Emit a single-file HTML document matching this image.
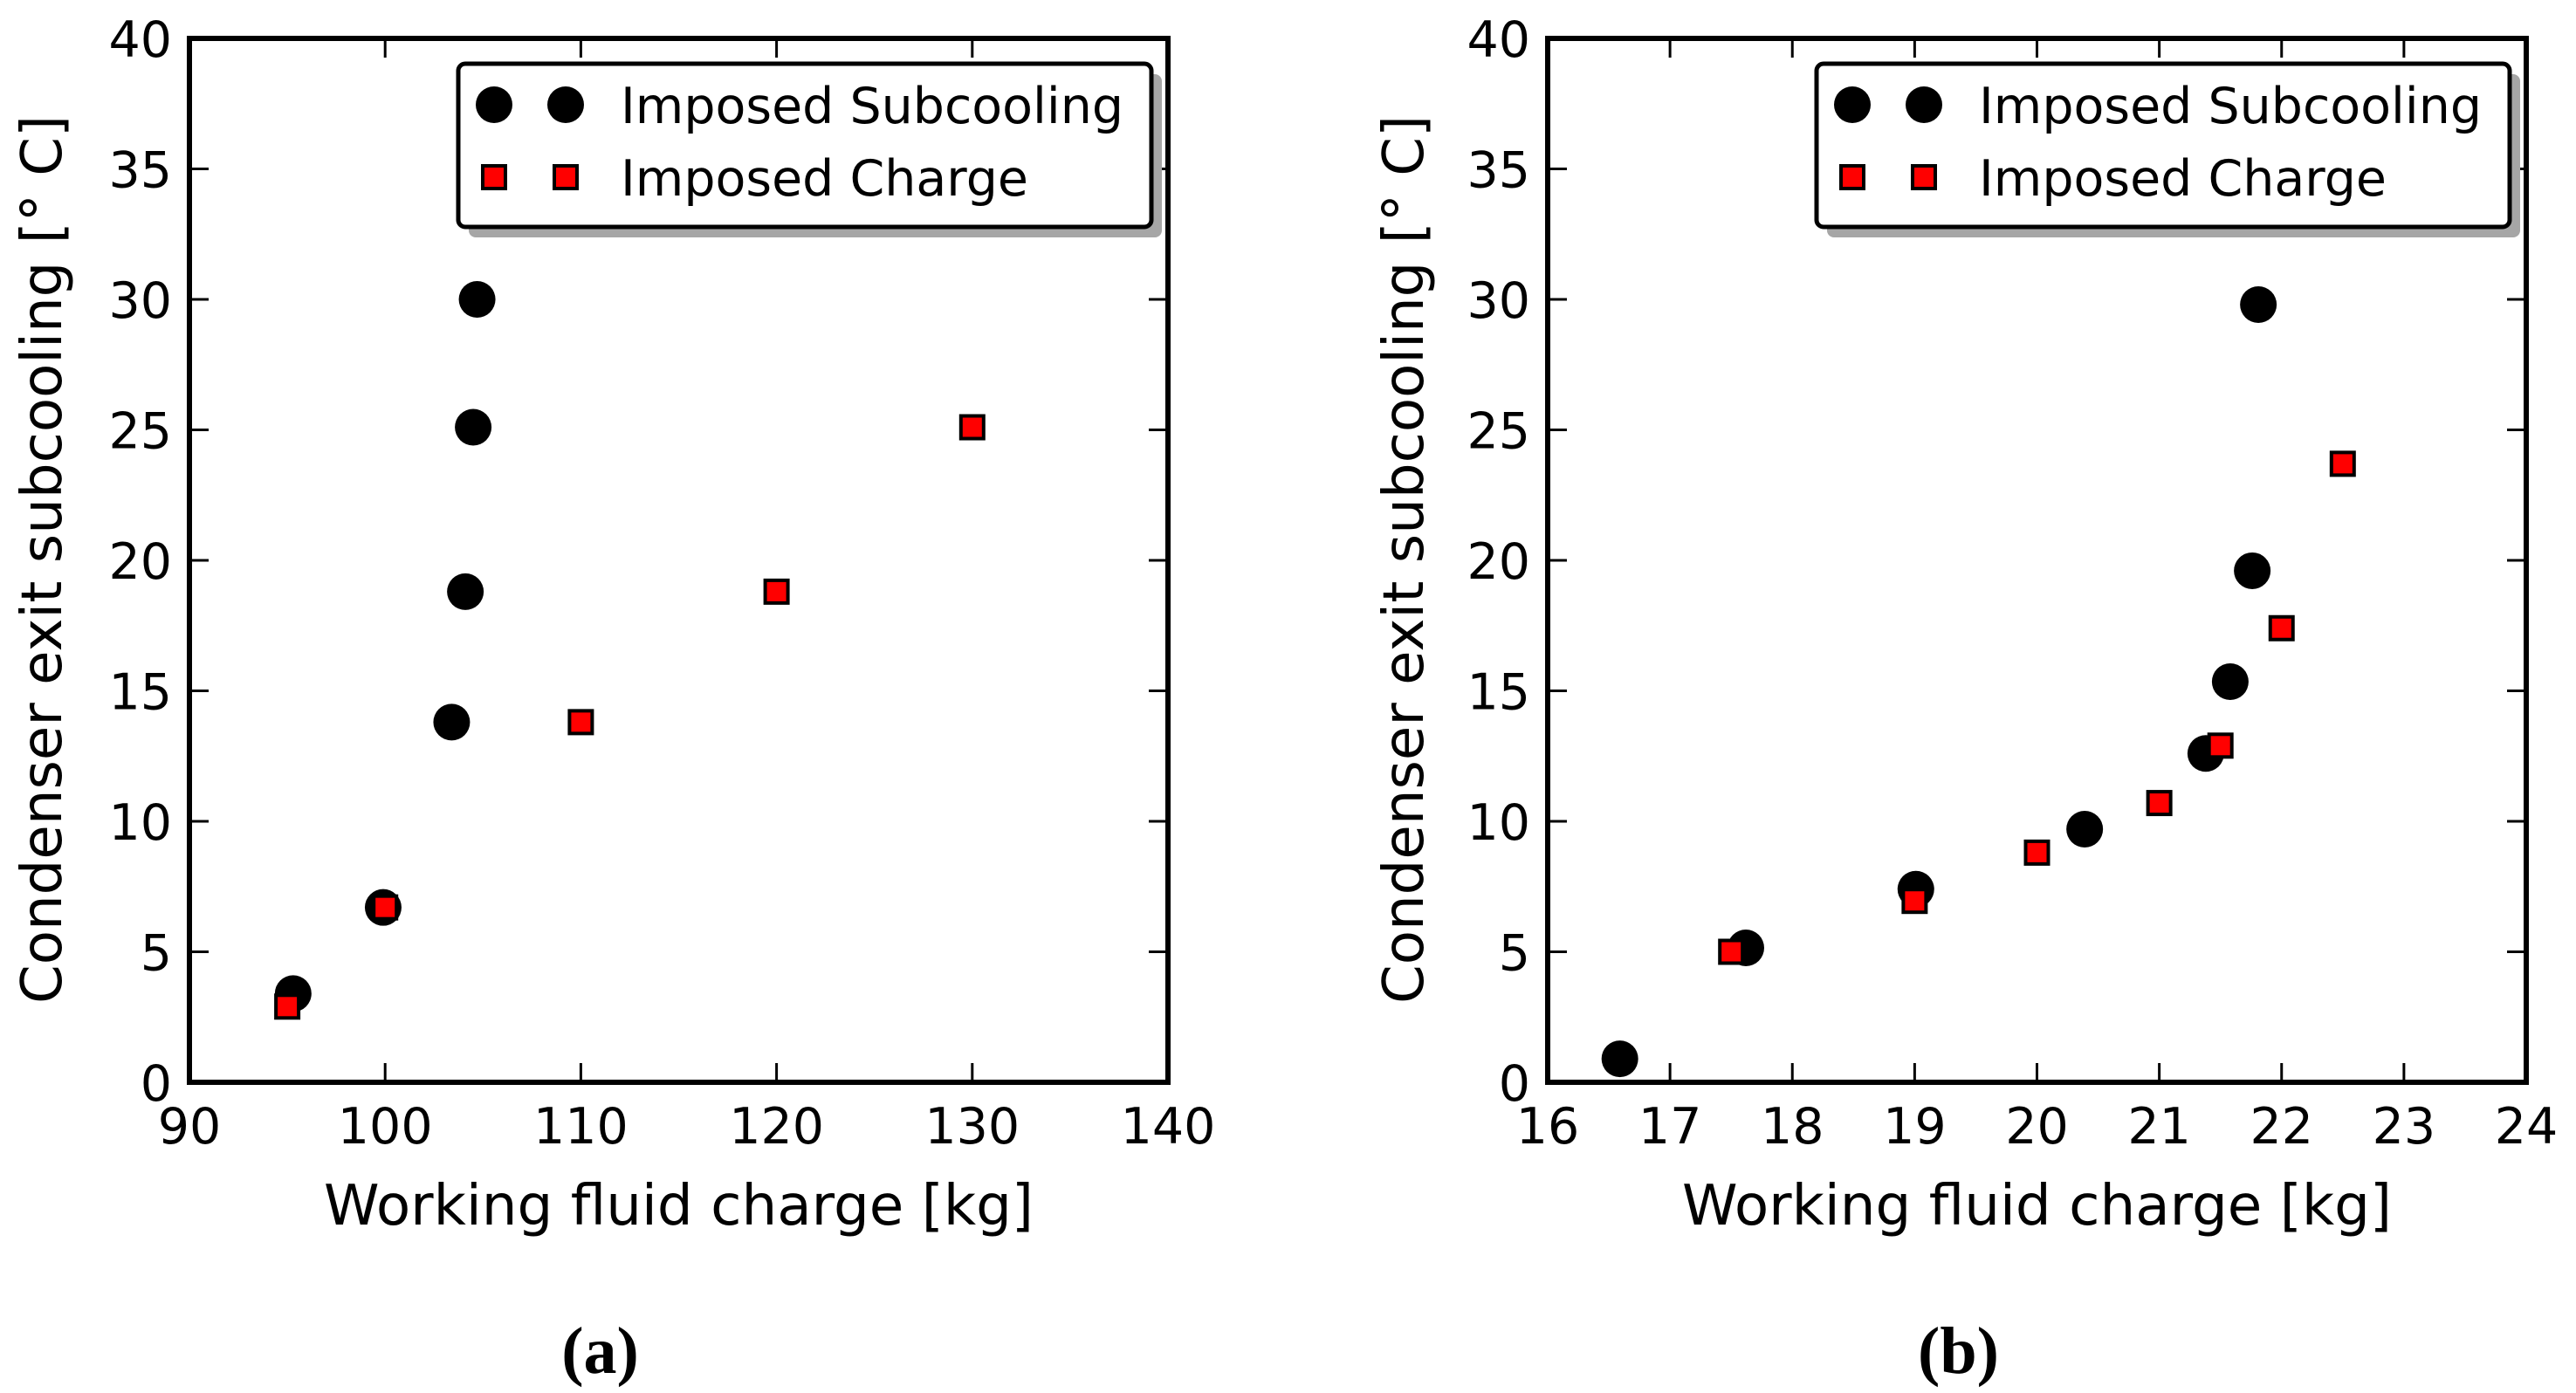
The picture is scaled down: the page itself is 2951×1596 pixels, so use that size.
<!DOCTYPE html>
<html><head><meta charset="utf-8"><style>
html,body{margin:0;padding:0;background:#fff;}
svg{display:block;font-family:"DejaVu Sans","Liberation Sans",sans-serif;}
</style></head><body>
<svg id="fig" width="2951" height="1596" viewBox="0 0 2951 1596" xmlns="http://www.w3.org/2000/svg">
<rect width="2951" height="1596" fill="#fff"/>
</svg>
<script>
// Panel (a) data
const aXTicks = [90,100,110,120,130,140];
const aCircX = [95.3,99.9,103.4,104.1,104.5,104.7];
const aCircY = [3.4,6.7,13.8,18.8,25.1,30.0];
const aSqX = [95,100,110,120,130];
const aSqY = [2.9,6.7,13.8,18.8,25.1];
// Panel (b) data
const bXTicks = [16,17,18,19,20,21,22,23,24];
const bCircX = [16.59,17.62,19.01,20.39,21.38,21.58,21.76,21.81];
const bCircY = [0.9,5.15,7.4,9.7,12.6,15.35,19.6,29.8];
const bSqX = [17.5,19,20,21,21.5,22,22.5];
const bSqY = [5.0,6.95,8.8,10.7,12.9,17.4,23.7];
const yTicks = [0,5,10,15,20,25,30,35,40];

const NS = "http://www.w3.org/2000/svg";
const svg = document.getElementById('fig');
function mk(tag, attrs, parent){
  const e = document.createElementNS(NS, tag);
  for (const k in attrs) e.setAttribute(k, attrs[k]);
  (parent||svg).appendChild(e);
  return e;
}
function panel(id, L, R, xTicks, cx, cy, sx, sy, labelText, titleX){
  const T = 44, B = 1240;
  const x0 = xTicks[0], x1 = xTicks[xTicks.length-1];
  const X = v => L + (v - x0) / (x1 - x0) * (R - L);
  const Y = v => B - v / 40 * (B - T);
  const g = mk('g', {});
  
  
  xTicks.forEach(t => {
    const x = X(t);
    const tb = mk('line', {x1:x, x2:x, y1:B, y2:B-22, stroke:'#000', 'stroke-width':3}, g);
    
    
    mk('line', {x1:x, x2:x, y1:T, y2:T+22, stroke:'#000', 'stroke-width':3}, g);
    const tx = mk('text', {x:x, y:1310, 'font-size':57, 'text-anchor':'middle'}, g);
    tx.textContent = t;
    
    
  });
  yTicks.forEach(t => {
    const y = Y(t);
    const tl = mk('line', {x1:L, x2:L+22, y1:y, y2:y, stroke:'#000', 'stroke-width':3}, g);
    
    
    mk('line', {x1:R, x2:R-22, y1:y, y2:y, stroke:'#000', 'stroke-width':3}, g);
    const ty = mk('text', {x:L-20, y:y+21, 'font-size':57, 'text-anchor':'end'}, g);
    ty.textContent = t;
    
    
  });
  cx.forEach((v,i) => {
    const c = mk('circle', {cx:X(v), cy:Y(cy[i]), r:21, fill:'#000'}, g);
    
    
  });
  sx.forEach((v,i) => {
    const s = mk('rect', {x:X(v)-13, y:Y(sy[i])-13, width:26, height:26, fill:'#f00', stroke:'#000', 'stroke-width':4}, g);
    
    
  });
  const fr = mk('rect', {x:L, y:T, width:R-L, height:B-T, fill:'none', stroke:'#000', 'stroke-width':6}, g);
  
  
  const lx = R - 813, ly = 73;
  const lg = mk('g', {}, g);
  
  
  mk('rect', {x:lx+12, y:ly+12, width:794, height:187, rx:8, fill:'#a6a6a6'}, lg);
  mk('rect', {x:lx, y:ly, width:794, height:187, rx:8, fill:'#fff', stroke:'#000', 'stroke-width':5}, lg);
  [lx+41, lx+123].forEach(mx => {
    mk('ellipse', {cx:mx, cy:ly+47, rx:21, ry:21, fill:'#000'}, lg);
    mk('rect', {x:mx-13, y:ly+117, width:26, height:26, fill:'#f00', stroke:'#000', 'stroke-width':4}, lg);
  });
  const t1 = mk('text', {x:lx+186, y:ly+68, 'font-size':57}, lg);
  t1.textContent = 'Imposed Subcooling';
  
  
  const t2 = mk('text', {x:lx+186, y:ly+151, 'font-size':57}, lg);
  t2.textContent = 'Imposed Charge';
  
  
  const xt = mk('text', {x:(L+R)/2, y:1403, 'font-size':64, 'text-anchor':'middle', textLength:813, lengthAdjust:'spacingAndGlyphs'}, g);
  xt.textContent = 'Working fluid charge [kg]';
  
  
  const yt = mk('text', {x:0, y:0, 'font-size':64, 'text-anchor':'middle', textLength:1018, lengthAdjust:'spacingAndGlyphs', transform:`translate(${titleX},641) rotate(-90)`}, g);
  yt.textContent = 'Condenser exit subcooling [\u00B0 C]';
  
  
  const pl = mk('text', {x:(L+R)/2-90, y:1573, 'font-size':76, 'font-weight':'bold', 'text-anchor':'middle', 'font-family':'Liberation Serif, serif'}, g);
  pl.textContent = labelText;
  
  
}
panel('panel-a', 217, 1338, aXTicks, aCircX, aCircY, aSqX, aSqY, '(a)', 70);
panel('panel-b', 1773, 2894, bXTicks, bCircX, bCircY, bSqX, bSqY, '(b)', 1630);
</script>
</body></html>
